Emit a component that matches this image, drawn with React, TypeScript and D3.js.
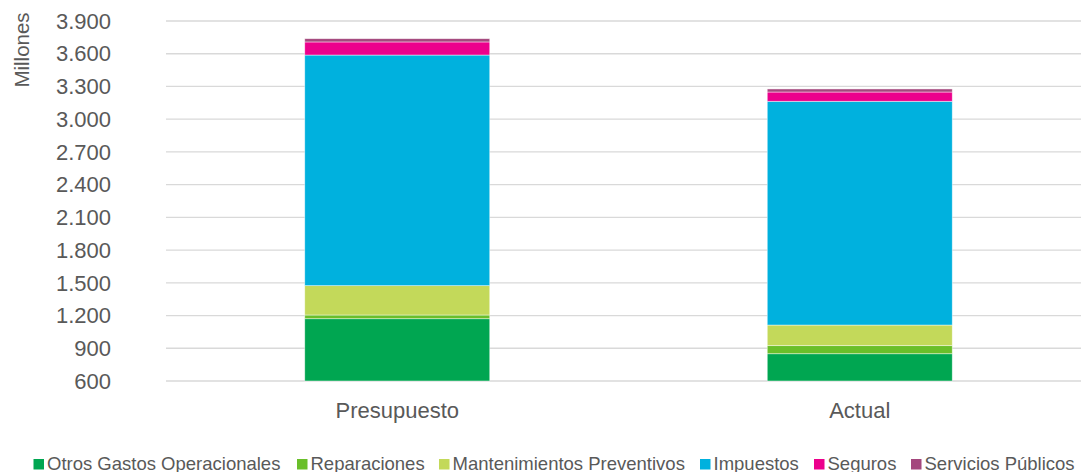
import React from "react";
import * as d3 from "d3";

const categories = ["Presupuesto", "Actual"];
const seriesNames = [
  "Otros Gastos Operacionales",
  "Reparaciones",
  "Mantenimientos Preventivos",
  "Impuestos",
  "Seguros",
  "Servicios Públicos",
];
const seriesColors = ["#00a651", "#6abf2a", "#c3d95a", "#00b1de", "#ec008c", "#a4477d"];
const otros = [1171, 850];
const reparaciones = [34, 74];
const mantenimientos = [269, 189];
const impuestos = [2114, 2051];
const seguros = [120, 85];
const servicios = [30, 28];
const yTicks = [600, 900, 1200, 1500, 1800, 2100, 2400, 2700, 3000, 3300, 3600, 3900];

const W = 1081;
const H = 472;

export default function App() {
  const seriesValues = [otros, reparaciones, mantenimientos, impuestos, seguros, servicios];
  const rows = categories.map((c, i) => {
    const r: any = { cat: c };
    seriesNames.forEach((s, k) => (r[s] = seriesValues[k][i]));
    return r;
  });
  const stacked = d3.stack().keys(seriesNames)(rows);

  const x = d3.scaleBand().domain(categories).range([166, 1091]).paddingInner(0.6).paddingOuter(0.3);
  const y = d3.scaleLinear().domain([600, 3900]).range([381, 21]).clamp(true);

  const loc = d3.formatLocale({ decimal: ",", thousands: ".", grouping: [3], currency: ["", ""] });
  const fmt = loc.format(",d");

  const font = "Arial, 'Liberation Sans', sans-serif";

  const legendX = [33.5, 297, 439, 700, 814, 911];

  return (
    <svg width={W} height={H} style={{ position: "absolute", left: 0, top: 0, background: "#fff" }}>
      {yTicks.map((t) => (
        <g key={t}>
          <line x1={166} x2={W} y1={y(t)} y2={y(t)} stroke="#d9d9d9" strokeWidth={1.3} />
          <text x={111} y={y(t)} dy="0.35em" textAnchor="end" fontSize={22} fill="#595959" fontFamily={font}>
            {fmt(t)}
          </text>
        </g>
      ))}
      <text
        transform={`translate(29,50) rotate(-90)`}
        textAnchor="middle"
        fontSize={20.5}
        fill="#595959"
        fontFamily={font}
      >
        Millones
      </text>
      {stacked.map((s, k) => (
        <g key={s.key} fill={seriesColors[k]}>
          {s.map((d: any, i: number) => {
            const y0 = y(d[0]);
            const y1 = y(d[1]);
            return (
              <rect
                key={i}
                x={x(categories[i])}
                width={x.bandwidth()}
                y={y1}
                height={Math.max(0, y0 - y1)}
                stroke="#ffffff"
                strokeOpacity={0.6}
                strokeWidth={0.75}
              />
            );
          })}
        </g>
      ))}
      {categories.map((c) => (
        <text
          key={c}
          x={(x(c) as number) + x.bandwidth() / 2}
          y={418}
          textAnchor="middle"
          fontSize={22}
          fill="#595959"
          fontFamily={font}
        >
          {c}
        </text>
      ))}
      {seriesNames.map((s, k) => (
        <g key={s} transform={`translate(${legendX[k]},459)`}>
          <rect x={0} y={0} width={10.5} height={10.5} fill={seriesColors[k]} />
          <text x={13.5} y={10.5} fontSize={18.5} fill="#595959" fontFamily={font}>
            {s}
          </text>
        </g>
      ))}
    </svg>
  );
}
